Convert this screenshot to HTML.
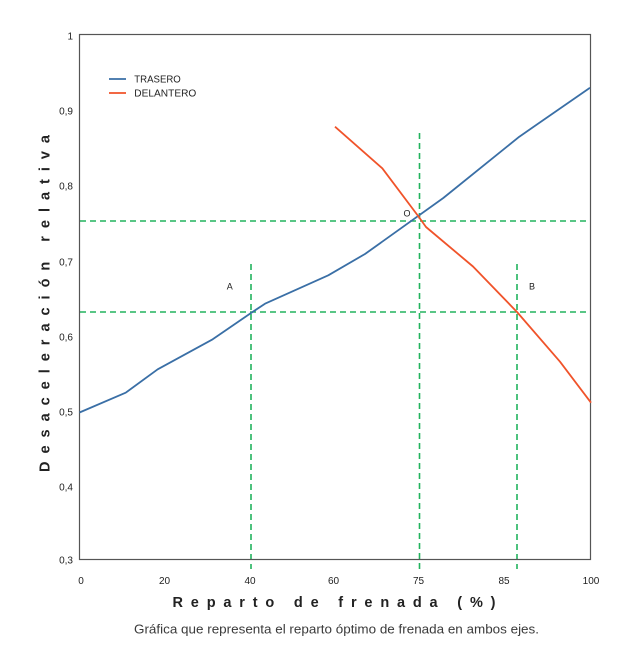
<!DOCTYPE html>
<html>
<head>
<meta charset="utf-8">
<style>
html,body{margin:0;padding:0;background:#fff;}
svg{display:block;}
text{font-family:"Liberation Sans",sans-serif;fill:#222;}
</style>
</head>
<body>
<svg width="624" height="651" viewBox="0 0 624 651" xmlns="http://www.w3.org/2000/svg">
  <!-- dashed guide lines -->
  <g stroke="#22b35e" stroke-width="1.6" stroke-dasharray="6,4" fill="none">
    <line x1="80" y1="221" x2="590" y2="221"/>
    <line x1="80" y1="312" x2="590" y2="312"/>
    <line x1="419.5" y1="133" x2="419.5" y2="569"/>
    <line x1="251" y1="264" x2="251" y2="569"/>
    <line x1="517" y1="264" x2="517" y2="569"/>
  </g>

  <!-- frame -->
  <rect x="79.5" y="34.5" width="511" height="525" fill="none" stroke="#555" stroke-width="1.2"/>

  <!-- series -->
  <polyline fill="none" stroke="#3a6fa6" stroke-width="1.8" stroke-linejoin="round"
    points="79.5,412.5 125.7,392.7 157.7,369.3 212.7,339.3 251,313 265,303.7 328.3,275.3 365,254 443.3,198 519.3,136.7 590,87.7"/>
  <polyline fill="none" stroke="#f0532a" stroke-width="1.8" stroke-linejoin="round"
    points="335,126.7 382.3,168.3 418.5,216.5 426,227 473,266.5 517,312 560,361.7 591,402.7"/>

  <!-- point labels -->
  <text x="407" y="216.5" font-size="9" text-anchor="middle">O</text>
  <text x="229.7" y="289.5" font-size="9" text-anchor="middle">A</text>
  <text x="532" y="289.5" font-size="9" text-anchor="middle">B</text>

  <!-- legend -->
  <line x1="109" y1="79" x2="126" y2="79" stroke="#3a6fa6" stroke-width="1.8"/>
  <line x1="109" y1="93" x2="126" y2="93" stroke="#f0532a" stroke-width="1.8"/>
  <text x="134.3" y="82.5" font-size="10" textLength="46.5" lengthAdjust="spacingAndGlyphs">TRASERO</text>
  <text x="134.3" y="96.5" font-size="10" textLength="62" lengthAdjust="spacingAndGlyphs">DELANTERO</text>

  <!-- y tick labels -->
  <g font-size="10" text-anchor="end" style="fill:#333">
    <text x="73" y="39.5">1</text>
    <text x="73" y="114.5">0,9</text>
    <text x="73" y="189.5">0,8</text>
    <text x="73" y="265.5">0,7</text>
    <text x="73" y="340.5">0,6</text>
    <text x="73" y="415.5">0,5</text>
    <text x="73" y="490.5">0,4</text>
    <text x="73" y="563.5">0,3</text>
  </g>

  <!-- x tick labels -->
  <g font-size="10" text-anchor="middle" style="fill:#333">
    <text x="81" y="584">0</text>
    <text x="164.5" y="584">20</text>
    <text x="250" y="584">40</text>
    <text x="333.5" y="584">60</text>
    <text x="418.5" y="584">75</text>
    <text x="504" y="584">85</text>
    <text x="591" y="584">100</text>
  </g>

  <!-- axis titles -->
  <text x="172.5" y="607" font-size="14.5" font-weight="bold" fill="#111" textLength="323" lengthAdjust="spacing" xml:space="preserve">R e p a r t o   d e   f r e n a d a   ( % )</text>
  <text transform="translate(49.5,472) rotate(-90)" x="0" y="0" font-size="14.5" font-weight="bold" fill="#111" textLength="337" lengthAdjust="spacing" xml:space="preserve">D e s a c e l e r a c i ó n   r e l a t i v a</text>

  <!-- caption -->
  <text x="134" y="633.5" font-size="13" style="fill:#3a3a3a" textLength="405" lengthAdjust="spacingAndGlyphs">Gráfica que representa el reparto óptimo de frenada en ambos ejes.</text>
</svg>
</body>
</html>
